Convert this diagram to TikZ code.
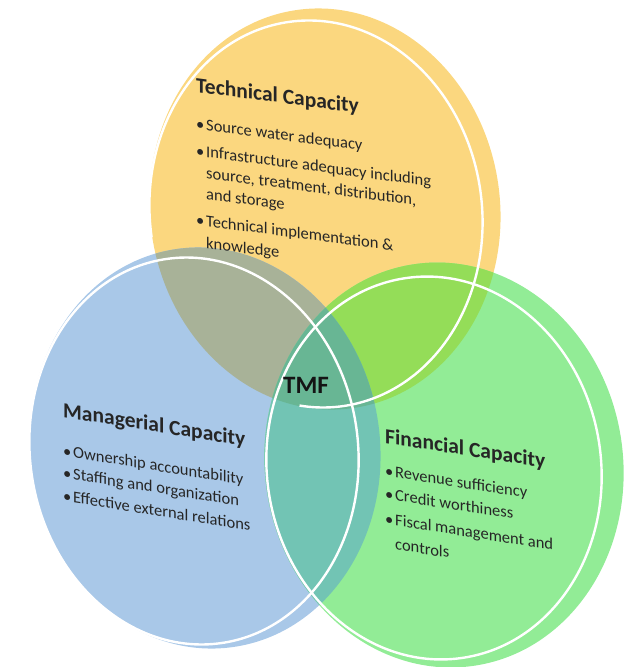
\documentclass[tikz,border=0pt]{standalone}
\usepackage{fontspec}
\setmainfont{Carlito}
\usepackage{tikz}

\definecolor{techyellow}{RGB}{251,215,127}
\definecolor{manblue}{RGB}{169,200,232}
\definecolor{fingreen}{RGB}{146,236,150}
\definecolor{techman}{RGB}{168,178,152}
\definecolor{techfin}{RGB}{148,221,88}
\definecolor{manfin}{RGB}{114,196,180}
\definecolor{allthree}{RGB}{104,182,148}

% disc outlines, reused for fills and clips
\newcommand\techdisc{(325,209) ellipse [x radius=175pt, y radius=201pt, rotate=8]}
\newcommand\mandisc{(205,448) ellipse [x radius=175pt, y radius=201pt, rotate=8]}
\newcommand\findisc{(444,465) ellipse [x radius=179pt, y radius=203pt, rotate=9]}
\newcommand\tmfbullet{\makebox[10pt][l]{\textbullet}}
\newcommand\tmfindent{\hspace*{10pt}}
\newcommand\headfont{\fontsize{21.5}{24}\selectfont\bfseries}

\tikzset{
  rim/.style={white, line width=2.4pt},
  block/.style={font=\fontsize{16.5}{21}\selectfont, text=black!85, inner sep=0pt,
    align=flush left, text width=#1, anchor=base west},
  block/.default=250pt,
}

\begin{document}
\begin{tikzpicture}[x=1pt, y=-1pt]
    \useasboundingbox (0,0) rectangle (628,667);
    % Draw discs
    \fill[techyellow] \techdisc;
    \fill[manblue] \mandisc;
    \fill[fingreen] \findisc;

    % Overlaps
    \begin{scope}
        \clip \techdisc;
        \fill[techman] \mandisc;
        \fill[techfin] \findisc;
    \end{scope}
    \begin{scope}
        \clip \mandisc;
        \fill[manfin] \findisc;
    \end{scope}
    \begin{scope}
        \clip \techdisc;
        \clip \mandisc;
        \fill[allthree] \findisc;
    \end{scope}

    % White rims
    \begin{scope}[shift={(316,214)}, rotate=8]
        \draw[rim] (180:166pt and 194pt) arc [start angle=180, end angle=-105, x radius=166pt, y radius=194pt];
    \end{scope}
    \draw[rim] (194,451) ellipse [x radius=164pt, y radius=194pt, rotate=8];
    \draw[rim] (434,468) ellipse [x radius=167pt, y radius=192pt, rotate=9];

    % Technical Capacity
    \node[block, yslant=-0.13] (tech) at (196,92) {%
        {\headfont Technical Capacity}\\[16pt]
        \tmfbullet Source water adequacy\\[6pt]
        \tmfbullet Infrastructure adequacy including\\
        \tmfindent source, treatment, distribution,\\
        \tmfindent and storage\\[6pt]
        \tmfbullet Technical implementation \&\\[1pt]
        \tmfindent knowledge};

    % Managerial Capacity
    \node[block, yslant=-0.16] (man) at (63,417) {%
        {\headfont Managerial Capacity}\\[18pt]
        \tmfbullet Ownership accountability\\[1pt]
        \tmfbullet Staffing and organization\\[2pt]
        \tmfbullet Effective external relations};

    % Financial Capacity
    \node[block, yslant=-0.155] (fin) at (385,443) {%
        {\headfont Financial Capacity}\\[12pt]
        \tmfbullet Revenue sufficiency\\[2pt]
        \tmfbullet Credit worthiness\\[4pt]
        \tmfbullet Fiscal management and\\[3pt]
        \tmfindent controls};

    % Centre label
    \node[font=\fontsize{25}{25}\selectfont\bfseries, text=black!92, inner sep=0pt] (tmf) at (306,385) {TMF};
\end{tikzpicture}
\end{document}
